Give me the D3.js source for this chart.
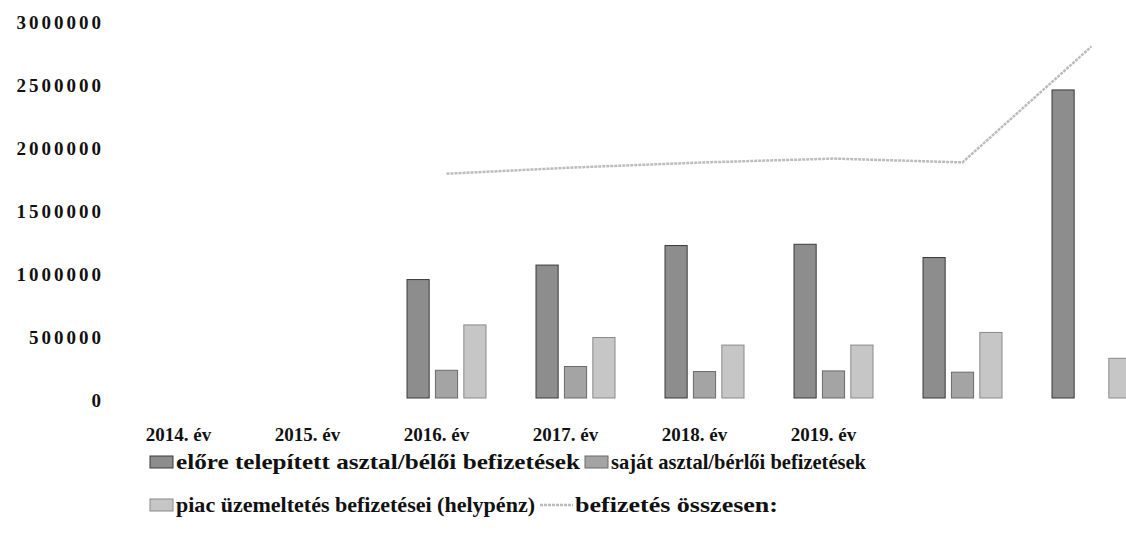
<!doctype html>
<html>
<head>
  <meta charset="utf-8">
  <title>befizetések</title>
  <style>
    html, body { margin: 0; padding: 0; background: #fff; }
    svg { display: block; }
    .ylab { font-family: "Liberation Serif", serif; font-weight: 700; font-size: 19px; letter-spacing: 3px; fill: #111; }
    .xlab { font-family: "Liberation Serif", serif; font-weight: 700; font-size: 19px; fill: #111; }
    .leg { font-family: "Liberation Serif", serif; font-weight: 700; font-size: 22px; fill: #111; }
  </style>
</head>
<body>
  <svg id="chart" width="1126" height="543"></svg>
  <script src="https://d3js.org/d3.v7.min.js"></script>
  <script>
    // adatok
    const categories = ['2014. év', '2015. év', '2016. év', '2017. év', '2018. év', '2019. év', '', ''];
    const slots = ['c0', 'c1', 'c2', 'c3', 'c4', 'c5', 'c6', 'c7'];
    const elore = [null, null, 940000, 1055000, 1210000, 1220000, 1115000, 2445000];
    const sajat = [null, null, 220000, 250000, 210000, 215000, 205000, 0];
    const piac = [null, null, 580000, 480000, 420000, 420000, 520000, 315000];
    const osszesen = [null, null, 1780000, 1830000, 1870000, 1900000, 1870000, 2790000];
    const yTicks = [0, 500000, 1000000, 1500000, 2000000, 2500000, 3000000];
    const seriesNames = ['előre telepített asztal/bélői befizetések', 'saját asztal/bérlői befizetések',
      'piac üzemeltetés befizetései (helypénz)', 'befizetés összesen:'];

    const colors = ['#8d8d8d', '#a4a4a4', '#c6c6c6'];
    const strokes = ['#3a3a3a', '#6a6a6a', '#8a8a8a'];
    const lineColor = '#bcbcbc';

    const svg = d3.select('#chart');

    const x = d3.scaleBand().domain(slots).range([124, 1156]).paddingInner(0).paddingOuter(0);
    const inner = d3.scaleBand().domain([0, 1, 2]).range([0, 79]).paddingInner(0.22);
    const y = d3.scaleLinear().domain([0, 3000000]).range([398, 20]);

    // y tengely feliratai
    const yAxis = d3.axisLeft(y).tickValues(yTicks).tickSize(0).tickPadding(0).tickFormat(d3.format('d'));
    const gy = svg.append('g').attr('transform', 'translate(104,0)').call(yAxis);
    gy.select('.domain').remove();
    gy.selectAll('text').attr('class', 'ylab').attr('font-family', null).attr('font-size', null)
      .attr('dy', '0.45em');

    // x tengely feliratai
    const xAxis = d3.axisBottom(x).tickSize(0).tickPadding(0).tickFormat((d, i) => categories[i]);
    const gx = svg.append('g').attr('transform', 'translate(-10,427)').call(xAxis);
    gx.select('.domain').remove();
    gx.selectAll('text').attr('class', 'xlab').attr('font-family', null).attr('font-size', null);

    // oszlopok
    const series = [elore, sajat, piac];
    series.forEach((vals, s) => {
      svg.append('g').selectAll('rect')
        .data(vals.map((v, i) => ({ v, i })).filter(d => d.v !== null && d.v > 0))
        .join('rect')
        .attr('x', d => x(slots[d.i]) + (x.bandwidth() - 79) / 2 + inner(s))
        .attr('y', d => y(d.v))
        .attr('width', inner.bandwidth())
        .attr('height', d => y(0) - y(d.v))
        .attr('fill', colors[s])
        .attr('stroke', strokes[s])
        .attr('stroke-width', 1);
    });

    // összesen vonal
    const line = d3.line()
      .defined(d => d.v !== null)
      .x(d => x(slots[d.i]) + x.bandwidth() / 2)
      .y(d => y(d.v));
    svg.append('path')
      .datum(osszesen.map((v, i) => ({ v, i })))
      .attr('d', line)
      .attr('fill', 'none')
      .attr('stroke', lineColor)
      .attr('stroke-width', 2.5)
      .attr('stroke-dasharray', '3 1');

    // jelmagyarázat
    const legendPos = [[150, 462], [585, 462], [150, 505], [540, 505]];
    const legendLen = [404, 255, 359, 203];
    seriesNames.forEach((name, s) => {
      const [lx, ly] = legendPos[s];
      const g = svg.append('g').attr('transform', `translate(${lx},${ly})`);
      if (s < 3) {
        g.append('rect').attr('x', 0).attr('y', -6).attr('width', 23).attr('height', 12)
          .attr('fill', colors[s]).attr('stroke', strokes[s]).attr('stroke-width', 1);
        g.append('text').attr('class', 'leg').attr('x', 26).attr('y', 7)
          .attr('textLength', legendLen[s]).attr('lengthAdjust', 'spacingAndGlyphs').text(name);
      } else {
        g.append('line').attr('x1', 0).attr('x2', 33).attr('y1', 0).attr('y2', 0)
          .attr('stroke', lineColor).attr('stroke-width', 2.5).attr('stroke-dasharray', '3 1');
        g.append('text').attr('class', 'leg').attr('x', 35).attr('y', 7)
          .attr('textLength', legendLen[s]).attr('lengthAdjust', 'spacingAndGlyphs').text(name);
      }
    });
  </script>
</body>
</html>
